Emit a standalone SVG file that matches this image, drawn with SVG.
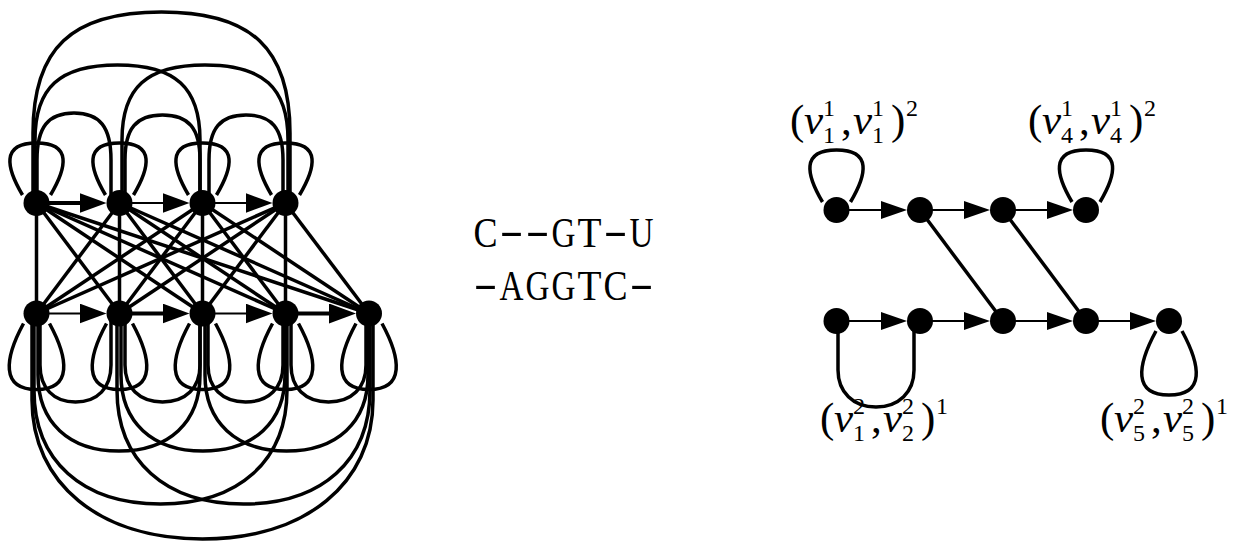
<svg xmlns="http://www.w3.org/2000/svg" width="1234" height="542" viewBox="0 0 1234 542">
<style>
.e{fill:none;stroke:#000;stroke-width:3.5}
.thin{fill:none;stroke:#000;stroke-width:1.8}
.thick{fill:none;stroke:#000;stroke-width:4}
.n{fill:#000}
.lab{font-family:"Liberation Serif","DejaVu Serif",serif;font-size:43px;fill:#000}
.v{font-style:italic}
.s{font-size:24px}
.tt{font-family:"Liberation Serif","DejaVu Serif",serif;font-size:43px;fill:#000}
</style>
<defs>
<marker id="ah" viewBox="0 0 27 20" markerWidth="27" markerHeight="20" refX="7" refY="10" orient="auto" markerUnits="userSpaceOnUse"><path d="M0,0 L27,10 L0,20 Z" fill="#000"/></marker>
<marker id="ahs" viewBox="0 0 26 18" markerWidth="26" markerHeight="18" refX="6" refY="9" orient="auto" markerUnits="userSpaceOnUse"><path d="M0,0 L26,9 L0,18 Z" fill="#000"/></marker>
</defs>
<g id="connectors">
<g class="e">
<line x1="36.5" y1="203" x2="36.5" y2="313.5"/><line x1="36.5" y1="203" x2="119.5" y2="313.5"/><line x1="36.5" y1="203" x2="202.5" y2="313.5"/><line x1="36.5" y1="203" x2="285.5" y2="313.5"/><line x1="36.5" y1="203" x2="369" y2="313.5"/>
<line x1="119.5" y1="203" x2="36.5" y2="313.5"/><line x1="119.5" y1="203" x2="119.5" y2="313.5"/><line x1="119.5" y1="203" x2="202.5" y2="313.5"/><line x1="119.5" y1="203" x2="285.5" y2="313.5"/><line x1="119.5" y1="203" x2="369" y2="313.5"/>
<line x1="202.5" y1="203" x2="36.5" y2="313.5"/><line x1="202.5" y1="203" x2="119.5" y2="313.5"/><line x1="202.5" y1="203" x2="202.5" y2="313.5"/><line x1="202.5" y1="203" x2="285.5" y2="313.5"/><line x1="202.5" y1="203" x2="369" y2="313.5"/>
<line x1="285.5" y1="203" x2="36.5" y2="313.5"/><line x1="285.5" y1="203" x2="119.5" y2="313.5"/><line x1="285.5" y1="203" x2="202.5" y2="313.5"/><line x1="285.5" y1="203" x2="285.5" y2="313.5"/><line x1="285.5" y1="203" x2="369" y2="313.5"/>
</g>
<g class="e">
<path d="M37,203 L37,160 C37,127.1 48.1,113 74,113 C99.9,113 111,127.1 111,160 L111,203"/>
<path d="M125,203 L125,160 C125,128.5 136.3,115 162.5,115 C188.8,115 200,128.5 200,160 L200,203"/>
<path d="M209,203 L209,160 C209,128.5 220.1,115 246,115 C271.9,115 283,128.5 283,160 L283,203"/>
<path d="M35,203 L35,140 C35,87.5 59.8,65 117.5,65 C175.3,65 200,87.5 200,140 L200,203"/>
<path d="M122,203 L122,140 C122,87.5 146.9,65 205,65 C263.1,65 288,87.5 288,140 L288,203"/>
<path d="M33,203 L33,133 C33,48.3 71.5,12 161.5,12 C251.5,12 290,48.3 290,133 L290,203"/>
</g>
<g class="e">
<path d="M22.5,195 C6.5,168 0.5,143 36.5,143 C72.5,143 66.5,168 50.5,195"/>
<path d="M105.5,195 C89.5,168 83.5,143 119.5,143 C155.5,143 149.5,168 133.5,195"/>
<path d="M188.5,195 C172.5,168 166.5,143 202.5,143 C238.5,143 232.5,168 216.5,195"/>
<path d="M271.5,195 C255.5,168 249.5,143 285.5,143 C321.5,143 315.5,168 299.5,195"/>
</g>
<g class="e">
<path d="M40,313.5 L40,365 C40,387.9 53.5,402 75.5,402 C97.5,402 111,387.9 111,365 L111,313.5"/>
<path d="M125,313.5 L125,365 C125,387.9 139.3,402 162.5,402 C185.8,402 200,387.9 200,365 L200,313.5"/>
<path d="M208,313.5 L208,365 C208,387.9 222.3,402 245.5,402 C268.8,402 283,387.9 283,365 L283,313.5"/>
<path d="M291,313.5 L291,365 C291,387.9 305.3,402 328.5,402 C351.8,402 366,387.9 366,365 L366,313.5"/>
<path d="M38,313.5 L38,375 C38,422.1 68.8,451 119,451 C169.2,451 200,422.1 200,375 L200,313.5"/>
<path d="M121,313.5 L121,375 C121,422.1 152.2,451 203,451 C253.8,451 285,422.1 285,375 L285,313.5"/>
<path d="M205,313.5 L205,375 C205,422.1 236,451 286.5,451 C337,451 368,422.1 368,375 L368,313.5"/>
<path d="M34,313.5 L34,390 C34,460.7 82.1,504 160.5,504 C238.9,504 287,460.7 287,390 L287,313.5"/>
<path d="M117,313.5 L117,390 C117,460.7 165.1,504 243.5,504 C321.9,504 370,460.7 370,390 L370,313.5"/>
<path d="M32,313.5 L32,400 C32,483 99,539 202.5,539 C306,539 373,483 373,400 L373,313.5"/>
</g>
<g class="e">
<path d="M23.5,323.5 C4.5,358.5 0.5,389.5 36.5,389.5 C72.5,389.5 68.5,358.5 49.5,323.5"/>
<path d="M106.5,323.5 C87.5,358.5 83.5,389.5 119.5,389.5 C155.5,389.5 151.5,358.5 132.5,323.5"/>
<path d="M189.5,323.5 C170.5,358.5 166.5,389.5 202.5,389.5 C238.5,389.5 234.5,358.5 215.5,323.5"/>
<path d="M272.5,323.5 C253.5,358.5 249.5,389.5 285.5,389.5 C321.5,389.5 317.5,358.5 298.5,323.5"/>
<path d="M356,323.5 C337,358.5 333,389.5 369,389.5 C405,389.5 401,358.5 382,323.5"/>
</g>
<line class="thick" x1="36.5" y1="203" x2="86.5" y2="203" marker-end="url(#ah)"/>
<line class="thin" x1="119.5" y1="203" x2="169.5" y2="203" marker-end="url(#ah)"/>
<line class="thin" x1="202.5" y1="203" x2="252.5" y2="203" marker-end="url(#ah)"/>
<line class="thin" x1="36.5" y1="313.5" x2="86.5" y2="313.5" marker-end="url(#ah)"/>
<line class="thick" x1="119.5" y1="313.5" x2="169.5" y2="313.5" marker-end="url(#ah)"/>
<line class="thin" x1="202.5" y1="313.5" x2="252.5" y2="313.5" marker-end="url(#ah)"/>
<line class="thick" x1="285.5" y1="313.5" x2="336" y2="313.5" marker-end="url(#ah)"/>
<line class="thin" x1="836.5" y1="210" x2="887" y2="210" marker-end="url(#ahs)"/>
<line class="thin" x1="920" y1="210" x2="970" y2="210" marker-end="url(#ahs)"/>
<line class="thin" x1="1003" y1="210" x2="1053" y2="210" marker-end="url(#ahs)"/>
<line class="thin" x1="836.5" y1="321" x2="887" y2="321" marker-end="url(#ahs)"/>
<line class="thin" x1="920" y1="321" x2="970" y2="321" marker-end="url(#ahs)"/>
<line class="thin" x1="1003" y1="321" x2="1053" y2="321" marker-end="url(#ahs)"/>
<line class="thin" x1="1086" y1="321" x2="1136" y2="321" marker-end="url(#ahs)"/>
<line class="e" x1="920" y1="210" x2="1003" y2="321"/>
<line class="e" x1="1003" y1="210" x2="1086" y2="321"/>
<path class="e" d="M822.5,202 C806.5,175 800.5,150 836.5,150 C872.5,150 866.5,175 850.5,202"/>
<path class="e" d="M1072,202 C1056,175 1050,150 1086,150 C1122,150 1116,175 1100,202"/>
<path class="e" d="M1156,331 C1137,366 1133,395 1169,395 C1205,395 1201,366 1182,331"/>
<path class="e" d="M838,321 L838,370 C838,392 853,407 876,407 C899,407 914,392 914,370 L914,321"/>
</g>
<g id="left-top-nodes">
<g id="T1"><circle class="n" cx="36.5" cy="203" r="13"/></g>
<g id="T2"><circle class="n" cx="119.5" cy="203" r="13"/></g>
<g id="T3"><circle class="n" cx="202.5" cy="203" r="13"/></g>
<g id="T4"><circle class="n" cx="285.5" cy="203" r="13"/></g>
</g>
<g id="left-bottom-nodes">
<g id="B1"><circle class="n" cx="36.5" cy="313.5" r="13"/></g>
<g id="B2"><circle class="n" cx="119.5" cy="313.5" r="13"/></g>
<g id="B3"><circle class="n" cx="202.5" cy="313.5" r="13"/></g>
<g id="B4"><circle class="n" cx="285.5" cy="313.5" r="13"/></g>
<g id="B5"><circle class="n" cx="369" cy="313.5" r="13"/></g>
</g>
<g id="right-nodes">
<g id="v11"><circle class="n" cx="836.5" cy="210" r="13"/></g>
<g id="v12"><circle class="n" cx="920" cy="210" r="13"/></g>
<g id="v13"><circle class="n" cx="1003" cy="210" r="13"/></g>
<g id="v14"><circle class="n" cx="1086" cy="210" r="13"/></g>
<g id="v21"><circle class="n" cx="836.5" cy="321" r="13"/></g>
<g id="v22"><circle class="n" cx="920" cy="321" r="13"/></g>
<g id="v23"><circle class="n" cx="1003" cy="321" r="13"/></g>
<g id="v24"><circle class="n" cx="1086" cy="321" r="13"/></g>
<g id="v25"><circle class="n" cx="1169" cy="321" r="13"/></g>
</g>
<g id="alignment">
<text class="tt"><tspan x="473.5" y="247" textLength="24" lengthAdjust="spacingAndGlyphs">C</tspan><tspan x="499.5" y="244" textLength="24" lengthAdjust="spacingAndGlyphs">-</tspan><tspan x="525.5" y="244" textLength="24" lengthAdjust="spacingAndGlyphs">-</tspan><tspan x="551.5" y="247" textLength="24" lengthAdjust="spacingAndGlyphs">G</tspan><tspan x="577.5" y="247" textLength="24" lengthAdjust="spacingAndGlyphs">T</tspan><tspan x="603.5" y="244" textLength="24" lengthAdjust="spacingAndGlyphs">-</tspan><tspan x="629.5" y="247" textLength="24" lengthAdjust="spacingAndGlyphs">U</tspan></text>
<text class="tt"><tspan x="473.5" y="297" textLength="24" lengthAdjust="spacingAndGlyphs">-</tspan><tspan x="499.5" y="300" textLength="24" lengthAdjust="spacingAndGlyphs">A</tspan><tspan x="525.5" y="300" textLength="24" lengthAdjust="spacingAndGlyphs">G</tspan><tspan x="551.5" y="300" textLength="24" lengthAdjust="spacingAndGlyphs">G</tspan><tspan x="577.5" y="300" textLength="24" lengthAdjust="spacingAndGlyphs">T</tspan><tspan x="603.5" y="300" textLength="24" lengthAdjust="spacingAndGlyphs">C</tspan><tspan x="629.5" y="297" textLength="24" lengthAdjust="spacingAndGlyphs">-</tspan></text>
</g>
<g id="labels">
<text class="lab"><tspan x="790" y="134">(</tspan><tspan class="v" x="804" y="134">v</tspan><tspan class="s" x="823" y="143">1</tspan><tspan class="s" x="823" y="116">1</tspan><tspan x="841" y="134">,</tspan><tspan class="v" x="853" y="134">v</tspan><tspan class="s" x="872" y="143">1</tspan><tspan class="s" x="872" y="116">1</tspan><tspan x="891" y="134">)</tspan><tspan class="s" x="906" y="116">2</tspan></text>
<text class="lab"><tspan x="1028" y="134">(</tspan><tspan class="v" x="1042" y="134">v</tspan><tspan class="s" x="1061" y="143">4</tspan><tspan class="s" x="1061" y="116">1</tspan><tspan x="1079" y="134">,</tspan><tspan class="v" x="1091" y="134">v</tspan><tspan class="s" x="1110" y="143">4</tspan><tspan class="s" x="1110" y="116">1</tspan><tspan x="1129" y="134">)</tspan><tspan class="s" x="1144" y="116">2</tspan></text>
<text class="lab"><tspan x="820" y="432">(</tspan><tspan class="v" x="834" y="432">v</tspan><tspan class="s" x="853" y="441">1</tspan><tspan class="s" x="853" y="414">2</tspan><tspan x="871" y="432">,</tspan><tspan class="v" x="883" y="432">v</tspan><tspan class="s" x="902" y="441">2</tspan><tspan class="s" x="902" y="414">2</tspan><tspan x="921" y="432">)</tspan><tspan class="s" x="936" y="414">1</tspan></text>
<text class="lab"><tspan x="1100" y="432">(</tspan><tspan class="v" x="1114" y="432">v</tspan><tspan class="s" x="1133" y="441">5</tspan><tspan class="s" x="1133" y="414">2</tspan><tspan x="1151" y="432">,</tspan><tspan class="v" x="1163" y="432">v</tspan><tspan class="s" x="1182" y="441">5</tspan><tspan class="s" x="1182" y="414">2</tspan><tspan x="1201" y="432">)</tspan><tspan class="s" x="1216" y="414">1</tspan></text>
</g>
</svg>
